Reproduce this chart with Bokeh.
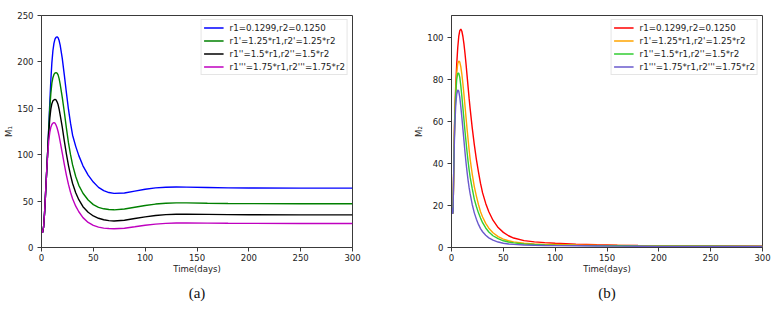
from bokeh.plotting import figure
from bokeh.models import Legend, LegendItem, Range1d, FixedTicker, Title
from bokeh.layouts import row
from bokeh.embed import file_html
from bokeh.resources import INLINE

# ---------------- data ----------------
t1 = [0, 1, 2, 3, 4, 5, 6, 7, 8, 9, 10, 11, 12, 13, 14, 15, 16, 17, 18, 20, 22, 24, 26, 28, 30,
      33, 36, 40, 45, 50, 55, 60, 65, 70, 80, 90, 100, 110, 120, 130, 140, 160, 180, 200, 250, 300]
m1_r = [19, 16, 22, 38, 60, 82, 104, 130, 156, 180, 199, 212, 220, 224.5, 226.5, 227, 226, 223, 218,
        204, 186, 167, 149, 134, 121, 109, 99, 88, 78, 70.5, 64.8, 61.2, 59.2, 58.3, 58.7, 60.8, 62.8,
        64.2, 65, 65.2, 65.1, 64.7, 64.3, 64.1, 64, 64]
m1_r125 = [19, 16, 22, 38, 60, 82, 104, 128, 150, 166, 177, 183, 186.5, 188, 188.5, 188, 186, 182, 176,
           162, 146, 129, 113, 100, 89, 76.5, 67, 58.5, 51.2, 46.2, 43.3, 41.7, 40.9, 40.6, 41.5, 43.4,
           45.3, 46.8, 47.7, 48.1, 48.1, 47.7, 47.4, 47.3, 47.2, 47.2]
m1_r15 = [19, 16, 22, 38, 60, 82, 104, 124, 139, 149, 155, 158, 159, 159.5, 159, 157, 154, 149, 143,
          130, 115, 101, 88.5, 78, 69, 59, 51.5, 44, 38, 34, 31.5, 29.9, 29, 28.6, 29.4,
          31.2, 33, 34.5, 35.4, 35.9, 36, 35.7, 35.4, 35.3, 35.2, 35.2]
m1_r175 = [19, 16, 22, 38, 60, 82, 100, 115, 124, 129.5, 132.5, 134, 134.5, 134, 132, 129, 125, 120,
           114, 102, 89.5, 78, 68, 59.5, 52.5, 44.5, 38.5, 32.2, 27, 23.9, 22, 20.9, 20.4, 20.2, 20.8,
           22.3, 24, 25.2, 26, 26.4, 26.5, 26.3, 26.1, 26, 25.9, 25.9]

t2 = [0, 1, 1.5, 2, 2.5, 3, 4, 5, 6, 7, 8, 9, 10, 11, 12, 13, 14, 15, 16, 17, 18, 20, 22, 24, 26, 28,
      30, 33, 36, 40, 45, 50, 55, 60, 70, 80, 90, 100, 120, 140, 160, 180, 200, 250, 300]
m2_r = [19, 16, 17, 32, 47, 60, 76, 87, 95, 100.5, 103.3, 104, 103, 100.5, 97, 92.5, 87.5, 82, 76.5,
        71, 66, 57, 49, 42, 36, 30.5, 26, 21, 17, 13, 9.5, 7.2, 5.6, 4.5, 3.3, 2.7, 2.3, 2.0, 1.6,
        1.35, 1.15, 1.0, 0.9, 0.75, 0.65]
m2_r125 = [19, 16, 17, 32, 47, 59, 74, 83, 87.5, 88.8, 88.3, 86, 82.5, 78, 73, 67.5, 62, 56.5, 51.5,
           46.5, 42, 35, 29, 24.5, 20.5, 17, 14.5, 11.5, 9.2, 7, 5.2, 4, 3.2, 2.7, 2.0, 1.7, 1.5,
           1.4, 1.2, 1.05, 0.95, 0.85, 0.8, 0.7, 0.6]
m2_r15 = [19, 16, 17, 32, 46, 58, 72, 80, 83, 83, 81, 77, 72, 66.5, 61, 55.5, 50.5, 45.5, 41, 37,
          33.5, 28, 23, 19.5, 16.5, 14, 11.8, 9.3, 7.4, 5.6, 4.2, 3.2, 2.6, 2.2, 1.7, 1.4, 1.25,
          1.15, 1.0, 0.9, 0.8, 0.72, 0.67, 0.57, 0.5]
m2_r175 = [19, 16, 17, 31, 44, 55, 67, 73, 75, 74.5, 71.5, 67, 62, 56.5, 51, 45.5, 40.5, 36, 32,
           28.5, 25.5, 20.5, 16.5, 13.5, 11, 9, 7.5, 5.8, 4.6, 3.5, 2.6, 2.0, 1.7, 1.5, 1.2, 1.05,
           0.95, 0.9, 0.8, 0.7, 0.65, 0.6, 0.55, 0.5, 0.45]

labels = ["r1=0.1299,r2=0.1250",
          "r1'=1.25*r1,r2'=1.25*r2",
          "r1''=1.5*r1,r2''=1.5*r2",
          "r1'''=1.75*r1,r2'''=1.75*r2"]
colors_a = ["#0000ff", "#008000", "#000000", "#bf00bf"]
colors_b = ["#ff0000", "#ffa500", "#32cd32", "#6a5acd"]
xticks = [0, 50, 100, 150, 200, 250, 300]
yticks_a = [0, 50, 100, 150, 200, 250]
yticks_b = [0, 20, 40, 60, 80, 100]

FONT = "DejaVu Sans"
AX = "#3a3a3a"


def make_panel(t, series, colors, ylab, yticks, ymax, caption, border_left, border_right, width):
    p = figure(width=width, height=309, output_backend="svg", toolbar_location=None,
               x_range=Range1d(0, 300), y_range=Range1d(0, ymax),
               min_border_left=border_left, min_border_right=border_right,
               min_border_top=15, min_border_bottom=62)
    p.xgrid.visible = False
    p.ygrid.visible = False
    p.outline_line_color = AX
    p.outline_line_width = 1
    p.background_fill_color = "white"
    p.border_fill_color = "white"

    items = []
    for ys, c, lab in zip(series, colors, labels):
        r = p.line(t, ys, line_color=c, line_width=1.4)
        items.append(LegendItem(label=lab, renderers=[r]))

    for ax in (p.xaxis[0], p.yaxis[0]):
        ax.axis_line_color = AX
        ax.major_tick_line_color = AX
        ax.minor_tick_line_color = None
        ax.major_tick_in = 0
        ax.major_tick_out = 4
        ax.major_label_text_font = FONT
        ax.major_label_text_font_size = "8.5px"
        ax.major_label_text_color = "#222222"
        ax.axis_label_text_font = FONT
        ax.axis_label_text_font_size = "8.5px"
        ax.axis_label_text_font_style = "normal"
        ax.axis_label_text_color = "#222222"
    p.xaxis.ticker = FixedTicker(ticks=xticks)
    p.yaxis.ticker = FixedTicker(ticks=yticks)
    p.xaxis.major_label_standoff = 2
    p.yaxis.major_label_standoff = 4
    p.xaxis.axis_label = "Time(days)"
    p.xaxis.axis_label_standoff = 0
    p.yaxis.axis_label = ylab
    p.yaxis.axis_label_standoff = 0

    cap = Title(text=caption, align="center", text_font="Liberation Serif",
                text_font_size="15px", text_font_style="normal", text_color="#111111",
                standoff=13, offset=-6)
    p.add_layout(cap, "below")

    leg = Legend(items=items, location="top_right", margin=4, padding=2, spacing=2,
                 glyph_width=20, glyph_height=11, label_height=11, label_standoff=6,
                 label_text_font=FONT, label_text_font_size="8.7px", label_text_color="#222222",
                 border_line_color="#cccccc", border_line_width=1,
                 background_fill_color="white", background_fill_alpha=0.9)
    p.add_layout(leg)
    return p


pa = make_panel(t1, [m1_r, m1_r125, m1_r15, m1_r175], colors_a, "M\u2081", yticks_a, 250, "(a)",
                41, 38, 390)
pb = make_panel(t2, [m2_r, m2_r125, m2_r15, m2_r175], colors_b, "M\u2082", yticks_b, 110.5, "(b)",
                61, 17, 389)

layout = row(pa, pb, spacing=0)
open("out.html", "w").write(file_html(layout, INLINE))
